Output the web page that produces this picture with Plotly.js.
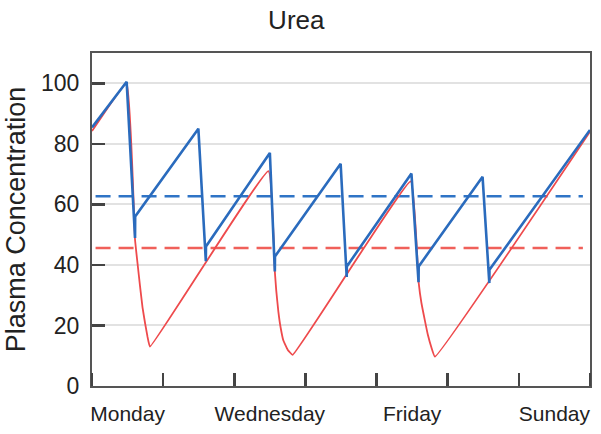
<!DOCTYPE html>
<html>
<head>
<meta charset="utf-8">
<script src="https://cdn.plot.ly/plotly-3.0.1.min.js"></script>
<style>html,body{margin:0;padding:0;background:#fff;}#chart{width:601px;height:434px;}</style>
</head>
<body>
<div id="chart"></div>
<script>
// Time in days (0 = start of Monday)
const blueX = [0, 0.487, 0.605, 0.607, 1.495, 1.600, 1.602, 2.500, 2.570, 2.572, 3.495, 3.580, 3.582, 4.490, 4.590, 4.592, 5.490, 5.585, 5.587, 7.0];
const blueY = [85.4, 100.5, 48.9, 56.0, 85.0, 41.2, 46.1, 77.0, 37.8, 42.8, 73.4, 36.0, 39.5, 70.2, 34.3, 39.5, 69.1, 34.0, 38.4, 84.6];

const redX = [0, 0.487, 0.605, 0.640, 0.675, 0.710, 0.745, 0.780, 0.815, 2.480, 2.570, 2.590, 2.620, 2.650, 2.690, 2.750, 2.820, 4.480, 4.590, 4.630, 4.680, 4.720, 4.770, 4.820, 7.0];
const redY = [84.2, 100.0, 48.3, 40.5, 33.0, 26.0, 20.9, 16.3, 13.0, 71.0, 37.8, 31.5, 24.5, 19.5, 15.0, 12.0, 10.3, 67.6, 34.5, 27.5, 21.5, 17.0, 12.8, 9.7, 84.0];

const meanX = [0.05, 6.9];
const blueMean = 62.7;
const redMean = 45.6;

const dayLabelPos = [0.5, 2.5, 4.5, 6.5];
const dayLabels = ["Monday", "Wednesday", "Friday", "Sunday"];
const yTicks = [0, 20, 40, 60, 80, 100];

const traces = [
  {x: meanX, y: meanX.map(() => redMean), mode: 'lines', line: {color: '#f0605a', width: 2.5, dash: '15px,8px'}, hoverinfo: 'skip'},
  {x: meanX, y: meanX.map(() => blueMean), mode: 'lines', line: {color: '#2f74c6', width: 2.5, dash: '15px,8px'}, hoverinfo: 'skip'},
  {x: redX, y: redY, mode: 'lines', line: {color: '#ee4a4c', width: 1.8, shape: 'spline', smoothing: 0.3}},
  {x: blueX, y: blueY, mode: 'lines', line: {color: '#2a6bbd', width: 2.6}}
];

const font = 'Liberation Sans, Arial, sans-serif';
const layout = {
  width: 601, height: 434,
  margin: {l: 92, r: 11, t: 53, b: 48},
  paper_bgcolor: '#fff', plot_bgcolor: '#fff',
  showlegend: false,
  title: {text: 'Urea', font: {family: font, size: 26, color: '#222'}, x: 0.493, xref: 'container', y: 0.955, yref: 'container', yanchor: 'middle'},
  xaxis: {
    range: [0, 7], showgrid: false, zeroline: false,
    tickvals: dayLabelPos, ticktext: dayLabels, ticks: '',
    tickfont: {family: font, size: 21, color: '#222'},
    ticklabelstandoff: 8,
    showline: true, linecolor: '#555', linewidth: 2, mirror: true,
    minor: {dtick: 1, tick0: 0, ticks: 'inside', ticklen: 13, tickwidth: 2.5, tickcolor: '#444', showgrid: false}
  },
  yaxis: {
    range: [0, 110], tickvals: yTicks, ticks: 'inside', ticklen: 13, tickwidth: 2.5, tickcolor: '#444',
    showgrid: true, gridcolor: '#e2e2e2', gridwidth: 2, zeroline: false,
    tickfont: {family: font, size: 23, color: '#222'},
    showline: true, linecolor: '#555', linewidth: 2, mirror: true,
    ticklabelstandoff: 6,
    title: {text: 'Plasma Concentration', font: {family: font, size: 27, color: '#222'}, standoff: 8}
  }
};

Plotly.newPlot('chart', traces, layout, {staticPlot: true, displayModeBar: false});
</script>
</body>
</html>
